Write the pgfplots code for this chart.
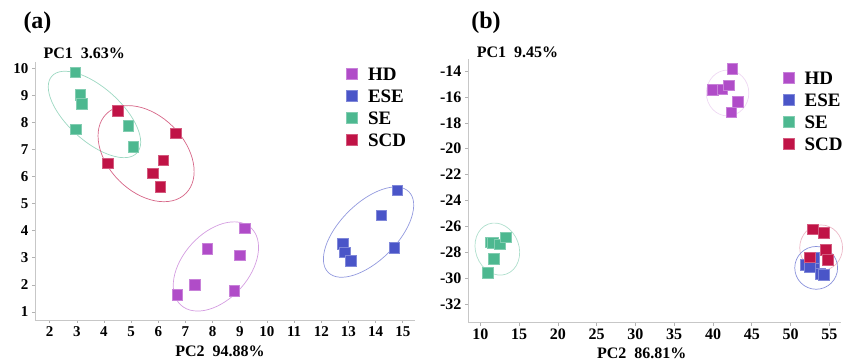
\documentclass[border=0pt]{standalone}
\usepackage{pgfplots}
\pgfplotsset{compat=1.18}
\usepackage{fontspec}
\setmainfont{Liberation Serif}
\definecolor{cHD}{RGB}{176,76,200}
\definecolor{cESE}{RGB}{74,85,200}
\definecolor{cSE}{RGB}{77,184,144}
\definecolor{cSCD}{RGB}{192,19,70}
\pgfplotsset{
  pcaaxis/.style={
    scale only axis, anchor=south west, clip=false,
    axis lines*=left,
    axis line style={draw=black!22, line width=0.8pt},
    tick style={draw=black!30, line width=0.6pt},
    tick align=outside, major tick length=3pt,
    /pgf/number format/assume math mode=true,
    xticklabel={\pgfmathprintnumber[assume math mode=true]{\tick}},
    yticklabel={\pgfmathprintnumber[assume math mode=true]{\tick}},
    every tick label/.append style={font=\bfseries\fontsize{15}{15}\selectfont},
    xlabel style={font=\bfseries\fontsize{16}{16}\selectfont},
    ylabel style={font=\bfseries\fontsize{16}{16}\selectfont, rotate=-90},
    legend style={draw=none, fill=none, anchor=north west,
      font=\bfseries\fontsize{19}{19}\selectfont, row sep=5pt,
      nodes={text height=13pt, text depth=0pt, inner sep=2pt}},
    legend cell align=left,
    legend image code/.code={\path[draw=none,fill=none] (0pt,-5pt) (20pt,5pt); \draw[#1] plot coordinates {(6pt,0pt)};},
  },
  mHD/.style={only marks, mark=square*, mark size=5.3pt, mark options={fill=cHD, draw=cHD!70!white, line width=0.5pt}},
  mESE/.style={only marks, mark=square*, mark size=5.3pt, mark options={fill=cESE, draw=cESE!70!white, line width=0.5pt}},
  mSE/.style={only marks, mark=square*, mark size=5.3pt, mark options={fill=cSE, draw=cSE!70!white, line width=0.5pt}},
  mSCD/.style={only marks, mark=square*, mark size=5.3pt, mark options={fill=cSCD, draw=cSCD!70!white, line width=0.5pt}},
}
\begin{document}
\begin{tikzpicture}
\useasboundingbox (0,0) rectangle (843pt,361pt);
% ---------------- panel (a)
\node[font=\bfseries\fontsize{24}{24}\selectfont] at (37.5pt,338.5pt) {(a)};
\begin{axis}[pcaaxis,
  at={(35pt,41pt)}, width=380pt, height=258pt,
  xmin=1.46, xmax=15.45, ymin=0.7, ymax=10.24,
  xtick={2,...,15}, ytick={1,...,10},
  xlabel={PC2~~94.88\%},
  xlabel style={at={(axis description cs:0.487,0)}, anchor=center, yshift=-31.7pt},
  ylabel={PC1~~3.63\%},
  ylabel style={at={(axis description cs:0,1)}, anchor=west, xshift=5pt, yshift=8.7pt},
  legend style={at={(rel axis cs:0.81,0.995)}},
]
\draw[cSE!55!white, line width=0.7pt, rotate around={-42:(axis cs:3.65,8.3)}] (axis cs:3.65,8.3) ellipse [x radius=2.11, y radius=0.99];
\draw[cSCD!65!white, line width=0.7pt, rotate around={-45:(axis cs:5.55,6.85)}] (axis cs:5.55,6.85) ellipse [x radius=2.07, y radius=1.41];
\draw[cHD!55!white, line width=0.7pt, rotate around={48:(axis cs:8.12,2.68)}] (axis cs:8.12,2.68) ellipse [x radius=1.92, y radius=1.22];
\draw[cESE!60!white, line width=0.7pt, rotate around={45:(axis cs:13.74,3.95)}] (axis cs:13.74,3.95) ellipse [x radius=2.1, y radius=1.06];
\addplot[mHD] coordinates {(9.19,4.09) (7.8,3.33) (9.0,3.1) (7.34,2.0) (8.8,1.78) (6.7,1.63)};
\addlegendentry{HD}
\addplot[mESE] coordinates {(14.8,5.5) (14.2,4.57) (14.68,3.37) (12.78,3.53) (12.86,3.2) (13.08,2.88)};
\addlegendentry{ESE}
\addplot[mSE] coordinates {(2.94,9.86) (3.13,9.02) (3.18,8.69) (2.96,7.75) (4.9,7.88) (5.08,7.11)};
\addlegendentry{SE}
\addplot[mSCD] coordinates {(4.51,8.43) (6.65,7.6) (4.14,6.49) (6.18,6.61) (5.79,6.12) (6.07,5.62)};
\addlegendentry{SCD}
\end{axis}
% ---------------- panel (b)
\node[font=\bfseries\fontsize{24}{24}\selectfont] at (486pt,338.5pt) {(b)};
\begin{axis}[pcaaxis,
  at={(468pt,38.3pt)}, width=373pt, height=263.4pt,
  xmin=8.42, xmax=56.5, ymin=-33.42, ymax=-13.1,
  xtick={10,15,...,55}, ytick={-32,-30,...,-14},
  every tick label/.append style={font=\bfseries\fontsize{16}{16}\selectfont},
  xlabel={PC2~~86.81\%},
  xlabel style={at={(axis description cs:0.466,0)}, anchor=center, yshift=-30.3pt},
  ylabel={PC1~~9.45\%},
  ylabel style={at={(axis description cs:0,1)}, anchor=west, xshift=5.3pt, yshift=6.6pt},
  legend style={at={(rel axis cs:0.835,0.97)}},
]
\draw[cHD!22!white, line width=0.7pt] (axis cs:41.88,-15.7) ellipse [x radius=2.74, y radius=1.77];
\draw[cSE!45!white, line width=0.7pt, rotate around={20:(axis cs:12.2,-27.74)}] (axis cs:12.2,-27.74) ellipse [x radius=2.8, y radius=2.05];
\draw[cSCD!30!white, line width=0.7pt] (axis cs:53.94,-27.64) ellipse [x radius=2.76, y radius=1.76];
\draw[cESE!65!white, line width=0.7pt] (axis cs:53.3,-29.19) ellipse [x radius=2.76, y radius=1.65];
\addplot[mHD] coordinates {(42.5,-13.85) (40.0,-15.44) (41.2,-15.41) (42.05,-15.1) (43.2,-16.36) (42.35,-17.2)};
\addlegendentry{HD}
\addplot[mESE] coordinates {(51.9,-28.96) (53.0,-28.96) (53.0,-28.4) (53.8,-29.65) (54.3,-29.7) (52.5,-29.1)};
\addlegendentry{ESE}
\addplot[mSE] coordinates {(10.95,-29.58) (11.72,-28.5) (11.3,-27.22) (11.58,-27.24) (12.49,-27.36) (13.26,-26.82)};
\addlegendentry{SE}
\addplot[mSCD] coordinates {(52.85,-26.2) (54.3,-26.47) (54.56,-27.8) (54.8,-28.57) (52.5,-28.37)};
\addlegendentry{SCD}
\end{axis}
\end{tikzpicture}
\end{document}
